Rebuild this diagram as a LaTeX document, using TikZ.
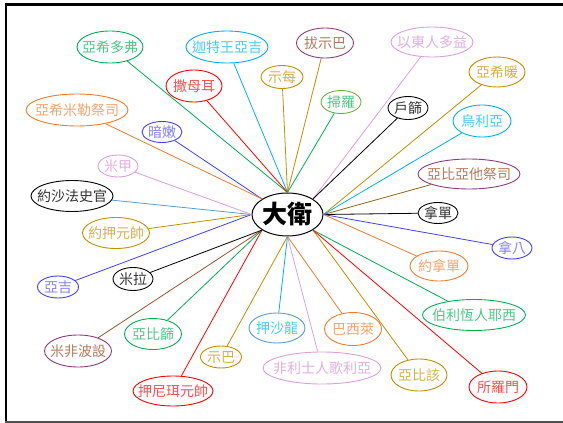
\documentclass[tikz,border=0pt]{standalone}
\usepackage{fontspec}
\newfontfamily\cjk{Noto Sans CJK TC}
\usetikzlibrary{shapes.geometric}
\definecolor{cgreen}{RGB}{0,176,80}
\definecolor{csky}{RGB}{0,176,240}
\definecolor{cred}{RGB}{255,0,0}
\definecolor{cgold}{RGB}{191,144,0}
\definecolor{cplum}{RGB}{220,160,220}
\definecolor{corange}{RGB}{237,125,49}
\definecolor{cblue}{RGB}{64,64,255}
\definecolor{cpurple}{RGB}{140,60,130}
\definecolor{cbrown}{RGB}{160,82,45}
\definecolor{cbrowntext}{RGB}{180,120,90}
\definecolor{csteel}{RGB}{91,155,213}
\definecolor{cleaf}{RGB}{112,173,71}
\definecolor{colive}{RGB}{140,105,20}
\definecolor{cframe}{RGB}{80,80,80}
\newcommand\lbl[1]{\smash{\makebox[0pt]{\raisebox{-0.37em}{#1}}}}
\begin{document}
\begin{tikzpicture}[x=1pt,y=-1pt,
  lab/.style 2 args={ellipse, draw=#1, text=#2, line width=0.9pt, inner sep=0pt,
    font=\cjk\fontsize{14}{14}\selectfont},
  sz/.style 2 args={minimum width=#1, minimum height=#2},
  ed/.style={line width=0.8pt, draw=#1}]
\useasboundingbox (0,0) rectangle (563,423);
% frame
\draw[line width=2.5pt] (6.2,3.3) -- (6.2,422.5);
\draw[line width=2.5pt] (5,4.5) -- (563,4.5);
\draw[cframe, line width=2pt] (5,422) -- (563,422);
% centre
\node[ellipse, draw, line width=1pt, minimum width=71, minimum height=43, inner sep=0pt,
  font=\cjk\bfseries\fontsize{25}{25}\selectfont] (c) at (287.5,214.5) {\lbl{大衛}};
% nodes
\node[lab={cgreen}{cgreen!70!white}, sz={66}{32}] (n1) at (110,47) {\lbl{亞希多弗}};
\node[lab={csky}{csky!70!white}, sz={82}{32}] (n2) at (227,47) {\lbl{迦特王亞吉}};
\node[lab={cred}{cred!70!white}, sz={56}{32}] (n3) at (194,86) {\lbl{撒母耳}};
\node[lab={cgold}{cgold!70!white}, sz={42}{23}] (n4) at (282,77) {\lbl{示每}};
\node[lab={cpurple}{cbrowntext}, sz={57}{30}] (n5) at (325,43) {\lbl{拔示巴}};
\node[lab={cplum}{cplum!85!white}, sz={82}{30}] (n6) at (432,42) {\lbl{以東人多益}};
\node[lab={cgold}{cgold!70!white}, sz={56}{30}] (n7) at (497,72) {\lbl{亞希暖}};
\node[lab={cleaf}{cgreen!70!white}, sz={40}{23}] (n8) at (341,102) {\lbl{掃羅}};
\node[lab={black}{black!80}, sz={40}{23}] (n9) at (408,108) {\lbl{戶篩}};
\node[lab={csky}{csky!70!white}, sz={58}{32}] (n10) at (482,121) {\lbl{烏利亞}};
\node[lab={cpurple}{cbrowntext}, sz={102}{30}] (n11) at (469,174) {\lbl{亞比亞他祭司}};
\node[lab={black}{black!80}, sz={40}{21}] (n12) at (438,213) {\lbl{拿單}};
\node[lab={cblue}{cblue!65!white}, sz={40}{22}] (n13) at (512,248) {\lbl{拿八}};
\node[lab={corange}{corange!70!white}, sz={58}{30}] (n14) at (439,266) {\lbl{約拿單}};
\node[lab={cgreen}{cgreen!70!white}, sz={103}{31}] (n15) at (474,315) {\lbl{伯利恆人耶西}};
\node[lab={corange}{corange!70!white}, sz={57}{33}] (n16) at (353,329) {\lbl{巴西萊}};
\node[lab={cgold}{cgold!70!white}, sz={56}{32}] (n17) at (419,375) {\lbl{亞比該}};
\node[lab={cred}{cred!70!white}, sz={58}{32}] (n18) at (498,387) {\lbl{所羅門}};
\node[lab={cplum}{cplum!85!white}, sz={118}{32}] (n19) at (322,368) {\lbl{非利士人歌利亞}};
\node[lab={csteel}{csky!70!white}, sz={56}{30}] (n20) at (277,328) {\lbl{押沙龍}};
\node[lab={cgold}{cgold!70!white}, sz={41}{22}] (n21) at (221,357) {\lbl{示巴}};
\node[lab={cred}{cred!70!white}, sz={80}{30}] (n22) at (173,391) {\lbl{押尼珥元帥}};
\node[lab={cgreen}{cgreen!70!white}, sz={57}{31}] (n23) at (153,334) {\lbl{亞比篩}};
\node[lab={cpurple}{cbrowntext}, sz={67}{32}] (n24) at (78,351) {\lbl{米非波設}};
\node[lab={cblue}{cblue!65!white}, sz={41}{22}] (n25) at (58,287) {\lbl{亞吉}};
\node[lab={black}{black!80}, sz={40}{23}] (n26) at (133,279) {\lbl{米拉}};
\node[lab={cgold}{cgold!70!white}, sz={67}{31}] (n27) at (116,233) {\lbl{約押元帥}};
\node[lab={black}{black!80}, sz={82}{31}] (n28) at (72,196) {\lbl{約沙法史官}};
\node[lab={cplum}{cplum!85!white}, sz={40}{22}] (n29) at (118,166) {\lbl{米甲}};
\node[lab={cblue}{cblue!65!white}, sz={40}{21}] (n30) at (162,132) {\lbl{暗嫩}};
\node[lab={corange}{corange!70!white}, sz={102}{32}] (n31) at (77,110) {\lbl{亞希米勒祭司}};
% edges
\draw[ed=cgreen] (c.north) -- (n1);
\draw[ed=csky] (c.north) -- (n2);
\draw[ed=cred] (c.north) -- (n3);
\draw[ed=cgold] (c.north) -- (n4);
\draw[ed=cgold] (c.north) -- (n5);
\draw[ed=cplum] (c.north east) -- (n6);
\draw[ed=cgold] (c.east) -- (n7);
\draw[ed=cgreen] (c.north) -- (n8);
\draw[ed=black] (c.north east) -- (n9);
\draw[ed=csky] (c.east) -- (n10);
\draw[ed=colive] (c.east) -- (n11);
\draw[ed=black] (c.east) -- (n12);
\draw[ed=cblue] (c.east) -- (n13);
\draw[ed=corange] (c.east) -- (n14);
\draw[ed=cgreen] (c.south east) -- (n15);
\draw[ed=corange] (c.south) -- (n16);
\draw[ed=cgold] (c.south east) -- (n17);
\draw[ed=cred] (c.south east) -- (n18);
\draw[ed=cplum] (c.south) -- (n19);
\draw[ed=csky] (c.south) -- (n20);
\draw[ed=cgold] (c.south) -- (n21);
\draw[ed=cred] (c.south west) -- (n22);
\draw[ed=cgreen] (c.south west) -- (n23);
\draw[ed=cbrown] (c.south west) -- (n24);
\draw[ed=cblue] (c.west) -- (n25);
\draw[ed=black] (c.south west) -- (n26);
\draw[ed=cgold] (c.west) -- (n27);
\draw[ed=csteel] (c.west) -- (n28);
\draw[ed=cplum] (c.west) -- (n29);
\draw[ed=cblue] (c.north west) -- (n30);
\draw[ed=corange] (c.north west) -- (n31);
\end{tikzpicture}
\end{document}
